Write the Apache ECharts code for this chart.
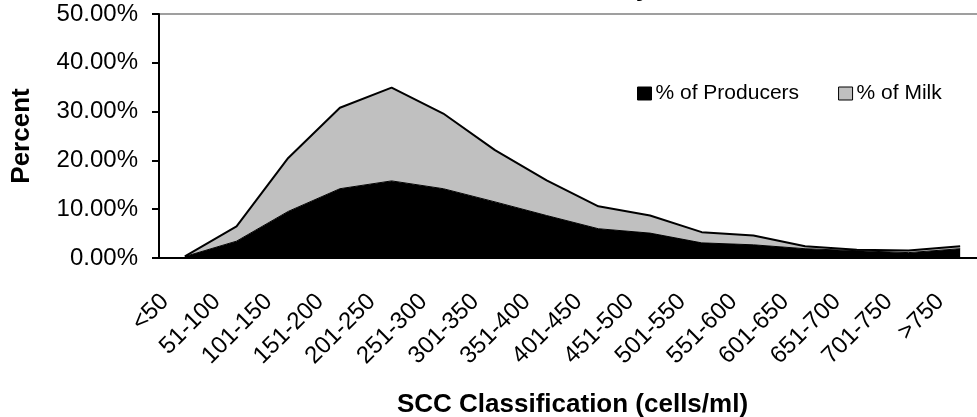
<!DOCTYPE html>
<html>
<head>
<meta charset="utf-8">
<script src="https://cdn.jsdelivr.net/npm/echarts@6/dist/echarts.min.js"></script>
<style>
  html, body { margin: 0; padding: 0; background: #fff; overflow: hidden; }
  #chart { width: 977px; height: 417px; }
</style>
</head>
<body>
<div id="chart"></div>
<script>
// SCC classes (cells/ml, thousands)
const categories = ["<50", "51-100", "101-150", "151-200", "201-250", "251-300", "301-350", "351-400",
  "401-450", "451-500", "501-550", "551-600", "601-650", "651-700", "701-750", ">750"];
// % of producers in each class
const producers = [0.3, 3.45, 9.55, 14.2, 15.8, 14.2, 11.5, 8.7, 6.0, 5.1, 3.1, 2.7, 1.9, 1.5, 1.1, 1.9];
// % of milk in each class (stacked on top of producers)
const milk = [0.05, 3.05, 10.95, 16.6, 19.1, 15.4, 10.6, 7.2, 4.6, 3.6, 2.2, 1.9, 0.5, 0.2, 0.45, 0.5];

const font = "Liberation Sans, Arial, sans-serif";
const chart = echarts.init(document.getElementById("chart"));

chart.setOption({
  animation: false,
  textStyle: { fontFamily: font, color: "#000" },
  graphic: [
    {
      // bottom of the chart title, cut off at the top edge
      type: "text",
      x: 643,
      y: -11,
      style: { text: "y", font: "bold 26px " + font, fill: "#000", align: "center", verticalAlign: "middle" }
    }
  ],
  legend: {
    left: 632,
    top: 78,
    icon: "rect",
    itemWidth: 14,
    itemHeight: 13,
    itemGap: 39,
    textStyle: { fontSize: 21, fontFamily: font, color: "#000", padding: [0, 0, 0, -1] },
    itemStyle: { borderColor: "#000", borderWidth: 1 },
    data: ["% of Producers", "% of Milk"]
  },
  grid: {
    left: 159,
    top: 14,
    width: 827,
    height: 244,
    outerBoundsMode: "none",
    containLabel: false,
    show: true,
    borderColor: "#808080",
    borderWidth: 1.5,
    backgroundColor: "transparent"
  },
  xAxis: {
    type: "category",
    data: categories,
    boundaryGap: true,
    name: "SCC Classification (cells/ml)",
    nameLocation: "middle",
    nameGap: 134,
    nameTextStyle: { fontSize: 26, fontWeight: "bold", fontFamily: font, color: "#000" },
    axisLine: { lineStyle: { color: "#000", width: 2 } },
    axisTick: { length: 7, lineStyle: { color: "#000", width: 2 } },
    axisLabel: {
      rotate: 45,
      interval: 0,
      fontSize: 24,
      fontFamily: font,
      color: "#000",
      margin: 20,
      padding: [0, 28, 0, 0]
    },
    splitLine: { show: false }
  },
  yAxis: {
    type: "value",
    min: 0,
    max: 50,
    interval: 10,
    name: "Percent",
    nameLocation: "middle",
    nameGap: 124,
    nameTextStyle: { fontSize: 26, fontWeight: "bold", fontFamily: font, color: "#000" },
    axisLine: { show: true, lineStyle: { color: "#000", width: 2 } },
    axisTick: { show: true, length: 7, lineStyle: { color: "#000", width: 2 } },
    axisLabel: {
      fontSize: 24,
      fontFamily: font,
      color: "#000",
      margin: 21,
      padding: [8, 0, 0, 0],
      formatter: function (v) { return v.toFixed(2) + "%"; }
    },
    splitLine: { show: false }
  },
  series: [
    {
      name: "% of Producers",
      type: "line",
      stack: "total",
      data: producers,
      symbol: "none",
      itemStyle: { color: "#000" },
      lineStyle: { color: "#000", width: 1 },
      areaStyle: { color: "#000", opacity: 1 }
    },
    {
      name: "% of Milk",
      type: "line",
      stack: "total",
      data: milk,
      symbol: "none",
      itemStyle: { color: "#C0C0C0" },
      lineStyle: { color: "#000", width: 2 },
      areaStyle: { color: "#C0C0C0", opacity: 1 }
    }
  ]
});
</script>
</body>
</html>
